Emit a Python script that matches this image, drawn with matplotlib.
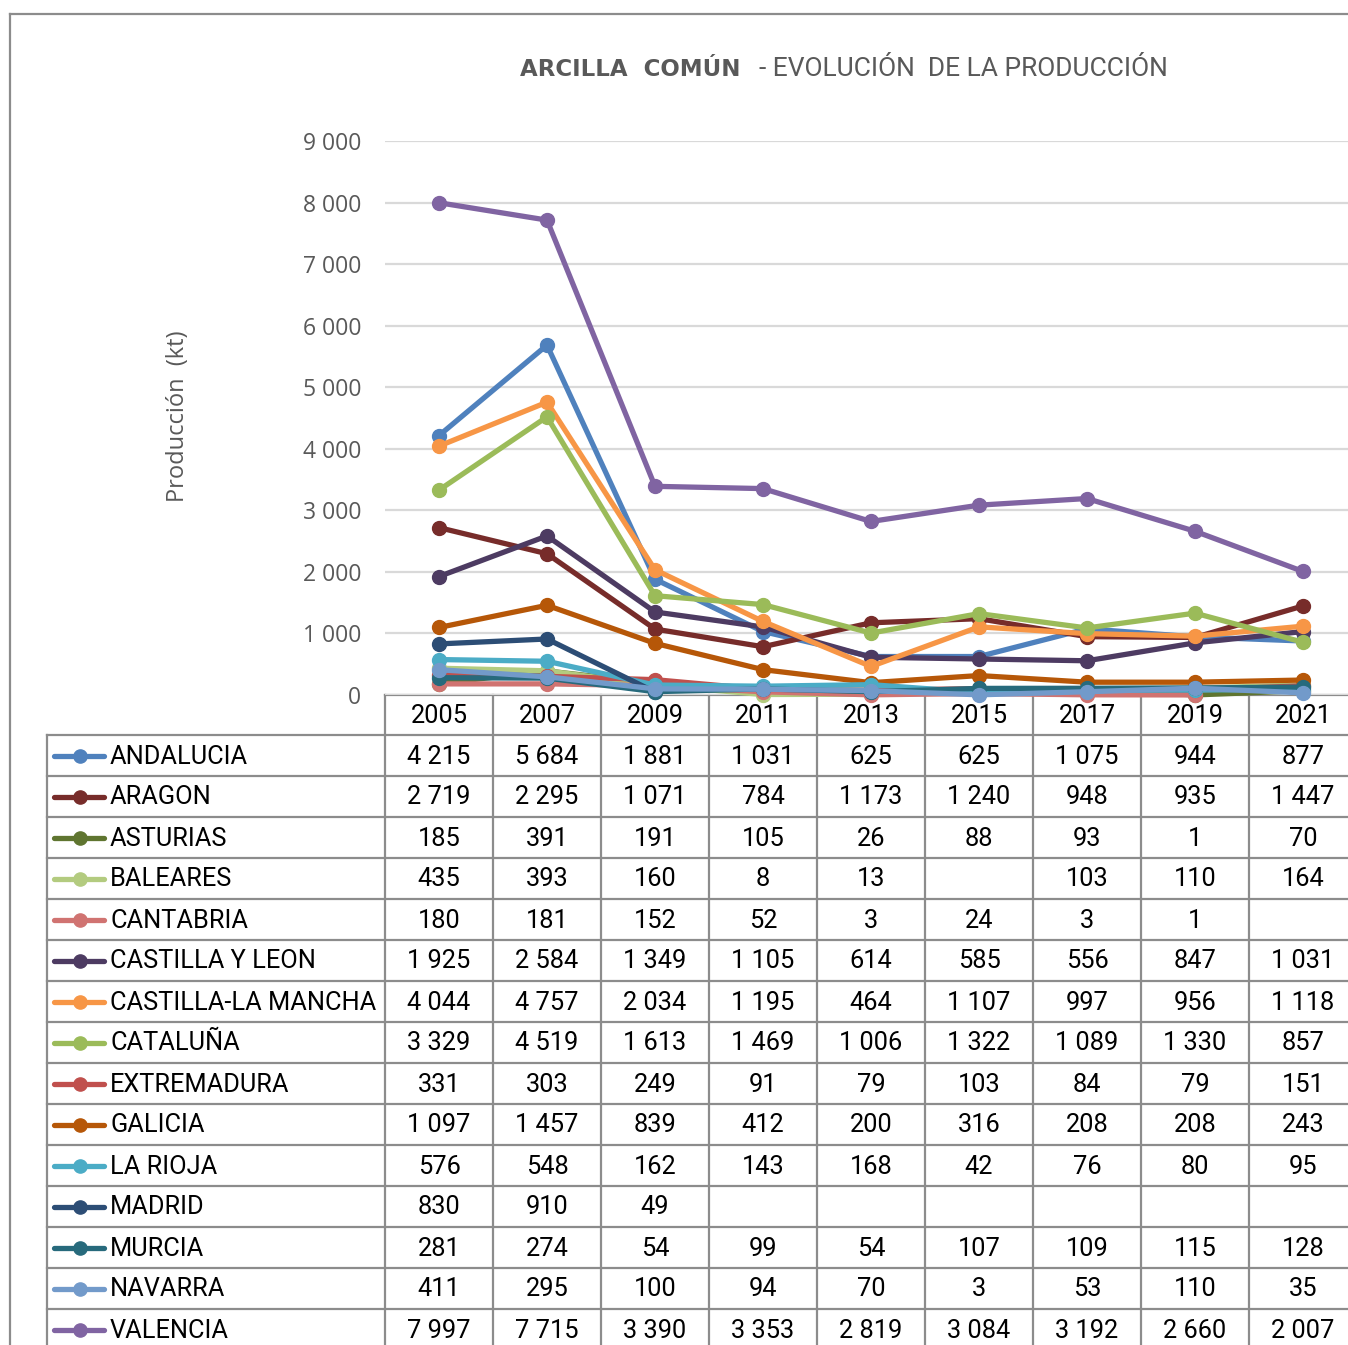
import numpy as np
import matplotlib
matplotlib.use("Agg")
import matplotlib.pyplot as plt

# -------------------------------
# Data
# -------------------------------
years = ["2005", "2007", "2009", "2011", "2013", "2015", "2017", "2019", "2021"]
nan = np.nan
andalucia = [4215, 5684, 1881, 1031, 625, 625, 1075, 944, 877]
aragon = [2719, 2295, 1071, 784, 1173, 1240, 948, 935, 1447]
asturias = [185, 391, 191, 105, 26, 88, 93, 1, 70]
baleares = [435, 393, 160, 8, 13, nan, 103, 110, 164]
cantabria = [180, 181, 152, 52, 3, 24, 3, 1, nan]
castilla_leon = [1925, 2584, 1349, 1105, 614, 585, 556, 847, 1031]
castilla_mancha = [4044, 4757, 2034, 1195, 464, 1107, 997, 956, 1118]
cataluna = [3329, 4519, 1613, 1469, 1006, 1322, 1089, 1330, 857]
extremadura = [331, 303, 249, 91, 79, 103, 84, 79, 151]
galicia = [1097, 1457, 839, 412, 200, 316, 208, 208, 243]
la_rioja = [576, 548, 162, 143, 168, 42, 76, 80, 95]
madrid = [830, 910, 49, nan, nan, nan, nan, nan, nan]
murcia = [281, 274, 54, 99, 54, 107, 109, 115, 128]
navarra = [411, 295, 100, 94, 70, 3, 53, 110, 35]
valencia = [7997, 7715, 3390, 3353, 2819, 3084, 3192, 2660, 2007]

regions = ["ANDALUCIA", "ARAGON", "ASTURIAS", "BALEARES", "CANTABRIA",
           "CASTILLA Y LEON", "CASTILLA-LA MANCHA", "CATALUÑA", "EXTREMADURA",
           "GALICIA", "LA RIOJA", "MADRID", "MURCIA", "NAVARRA", "VALENCIA"]
series = [andalucia, aragon, asturias, baleares, cantabria, castilla_leon,
          castilla_mancha, cataluna, extremadura, galicia, la_rioja, madrid,
          murcia, navarra, valencia]
colors = ["#4F81BD", "#772C2A", "#5F7530", "#B3CB7F", "#D07371", "#4D3B62",
          "#F79646", "#9BBB59", "#C0504D", "#B65708", "#4BACC6", "#2C4D75",
          "#276A7C", "#729ACA", "#8064A2"]

# -------------------------------
# Layout (pixels)
# -------------------------------
W, H = 1348, 1345
X0, CW = 385, 108          # first year column, column width
Y0, Y9 = 695, 141          # y pixel of 0 and 9000
HEAD = 40                  # header row height
RH = 41                    # table row height
TL = 47                    # table left border
GRAY = "#595959"
LINE = "#8C8C8C"
TFAM = ["Roboto", "DejaVu Sans"]

def fx(px):
    return px / W

def fy(py):
    return 1 - py / H

def fmt(v):
    if v is None or np.isnan(v):
        return ""
    return f"{int(v):,}".replace(",", " ")

fig = plt.figure(figsize=(W / 100, H / 100), dpi=100)

# overlay for frame and table grid (pixel coords)
ov = fig.add_axes([0, 0, 1, 1])
ov.set_xlim(0, W)
ov.set_ylim(H, 0)
ov.axis("off")

# -------------------------------
# Line chart
# -------------------------------
ncol = len(years)
ax = fig.add_axes([fx(X0), fy(Y0), (ncol * CW) / W, (Y0 - Y9) / H])
ax.set_xlim(-0.5, ncol - 0.5)
ax.set_ylim(0, 9000)
x = np.arange(ncol)
for vals, c in zip(series, colors):
    ax.plot(x, vals, color=c, lw=3.8, marker="o", ms=10, zorder=3,
            solid_capstyle="round", clip_on=False)
ax.set_yticks(np.arange(0, 9001, 1000))
ax.set_yticklabels([fmt(v) for v in np.arange(0, 9001, 1000)],
                   color=GRAY, fontsize=16.5, family="Open Sans")
ax.tick_params(axis="y", length=0, pad=17)
ax.set_xticks([])
ax.grid(axis="y", color="#D9D9D9", lw=1.6)
for s in ax.spines.values():
    s.set_visible(False)
ax.patch.set_alpha(0)

fig.text(fx(178), fy(416), "Producción  (kt)", rotation=90, ha="center",
         va="center", color=GRAY, fontsize=17, family="Open Sans")

fig.text(fx(741), fy(69), "ARCILLA  COMÚN", ha="right", va="center",
         color=GRAY, fontsize=16.5, fontweight="bold", family="DejaVu Sans")
fig.text(fx(759), fy(69), "- EVOLUCIÓN  DE LA PRODUCCIÓN", ha="left",
         va="center", color=GRAY, fontsize=19, family=TFAM)

# -------------------------------
# Frame
# -------------------------------
ov.plot([10, W + 5], [14, 14], color="#8C8C8C", lw=1.6)
ov.plot([10, 10], [14, H + 5], color="#8C8C8C", lw=1.6)

# -------------------------------
# Data table
# -------------------------------
nrow = len(regions)
right = X0 + ncol * CW
top_rows = Y0 + HEAD
bottom = top_rows + nrow * RH
tfont = dict(fontsize=18.3, color="black", family=TFAM)

# horizontal lines
ov.plot([X0, right], [Y0, Y0], color=LINE, lw=1.6)
for i in range(nrow + 1):
    yy = top_rows + i * RH
    ov.plot([TL, right], [yy, yy], color=LINE, lw=1.6)
# vertical lines
ov.plot([TL, TL], [top_rows, bottom], color=LINE, lw=1.6)
for j in range(ncol + 1):
    xx = X0 + j * CW
    ov.plot([xx, xx], [Y0, bottom], color=LINE, lw=1.6)

for j, yr in enumerate(years):
    ov.text(X0 + (j + 0.5) * CW, Y0 + HEAD / 2 + 1, yr, ha="center",
            va="center", **tfont)

for i, (name, vals, c) in enumerate(zip(regions, series, colors)):
    yc = top_rows + (i + 0.5) * RH
    ov.plot([54, 104], [yc, yc], color=c, lw=3.8, solid_capstyle="round")
    ov.plot([80], [yc], marker="o", ms=9.5, color=c)
    ov.text(110, yc + 1, name, ha="left", va="center", **tfont)
    for j, v in enumerate(vals):
        ov.text(X0 + (j + 0.5) * CW, yc + 1, fmt(v), ha="center",
                va="center", **tfont)

fig.savefig("out.png", dpi=100)
